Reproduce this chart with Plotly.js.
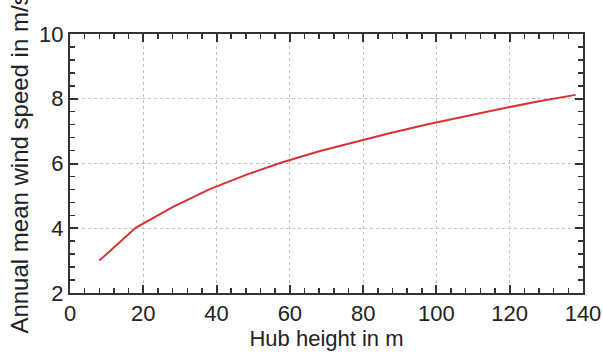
<!DOCTYPE html>
<html><head><meta charset="utf-8">
<script src="https://cdn.plot.ly/plotly-3.0.1.min.js"></script>
<style>html,body{margin:0;padding:0;background:#fff}</style>
</head><body><div id="chart" style="width:603px;height:352px"></div>
<script>
const hubHeight = [8,18,28,38,48,58,68,78,88,98,108,118,128,138];
const windSpeed = [3.0,4.02,4.65,5.2,5.65,6.04,6.38,6.68,6.96,7.22,7.47,7.70,7.92,8.12];
const xTickVals = [0,20,40,60,80,100,120,140];
const yTickVals = [2,4,6,8,10];

const fontFam = 'Liberation Sans, Arial, sans-serif';
const axisCommon = {
  showline: true, linecolor: '#333', linewidth: 2, mirror: 'ticks',
  ticks: 'inside', ticklen: 8, tickwidth: 2, tickcolor: '#333',
  showgrid: true, gridcolor: '#c4c4c4', griddash: 'dot', gridwidth: 1,
  zeroline: false,
  tickfont: {family: fontFam, size: 22, color: '#222'},
  minor: {ticks: 'inside', ticklen: 5, tickwidth: 1.5, tickcolor: '#333', showgrid: false}
};
const layout = {
  width: 603, height: 352,
  margin: {l: 70, r: 20, t: 34, b: 59},
  paper_bgcolor: '#fff', plot_bgcolor: '#fff',
  showlegend: false,
  xaxis: Object.assign({}, axisCommon, {
    range: [0, 140], tickmode: 'array', tickvals: xTickVals,
    minor: Object.assign({}, axisCommon.minor, {dtick: 4, tick0: 0}),
    title: {text: 'Hub height in m', font: {family: fontFam, size: 22, color: '#222'}, standoff: 0}
  }),
  yaxis: Object.assign({}, axisCommon, {
    range: [2, 10], tickmode: 'array', tickvals: yTickVals,
    minor: Object.assign({}, axisCommon.minor, {dtick: 0.4, tick0: 2}),
    title: {text: 'Annual mean wind speed in m/s', font: {family: fontFam, size: 24, color: '#222'}, standoff: 4}
  })
};
Plotly.newPlot('chart', [{
  x: hubHeight, y: windSpeed, type: 'scatter', mode: 'lines',
  line: {color: '#d93232', width: 2}
}], layout, {displayModeBar: false, staticPlot: true});
</script></body></html>
